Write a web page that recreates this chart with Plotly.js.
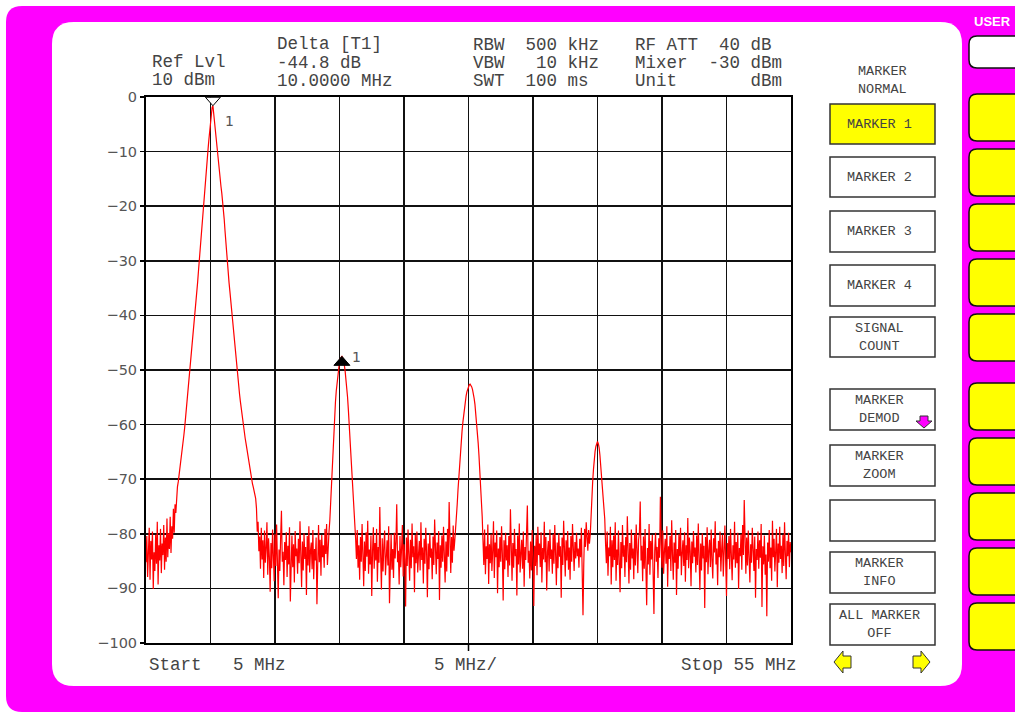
<!DOCTYPE html>
<html><head><meta charset="utf-8">
<script src="https://cdn.plot.ly/plotly-3.0.1.min.js"></script>
<style>html,body{margin:0;padding:0;background:#fff;overflow:hidden}#chart{width:1015px;height:715px}</style>
</head><body><div id="chart"></div>
<script>
// ---------------- DATA ----------------
const startMHz = 5, stopMHz = 55, stepMHz = 0.0625;   // 801 sweep points
const noiseA = [-85.2,-80.4,-87.9,-82.6,-78.9,-88.4,-81.3,-84.7,-79.6,-90.1,
  -83.4,-86.8,-80.2,-85.5,-77.8,-89.3,-82.1,-84.9,-79.1,-87.2,
  -81.8,-83.9,-78.4,-86.6,-80.7,-85.1,-77.2,-84.3,-79.9,-82.8,
  -76.9,-83.5,-78.6,-80.9,-75.4,-79.8,-74.6,-76.2];
const peak1 = [-72.5,-71.4,-70.5,-69.4,-68.3,-67.1,-65.8,-64.5,-63.2,-61.9,
  -60.5,-58.9,-57.3,-55.8,-54.2,-52.6,-51,-49.4,-47.8,-46.2,
  -44.6,-43,-41.4,-39.6,-37.8,-35.9,-34,-32,-30,-28.1,
  -26.2,-24.2,-22.2,-20.3,-18.5,-16.6,-14.8,-13,-11.2,-9.5,
  -7.8,-6.2,-4.6,-3.1,-1.9,-1.6,-3.2,-4.9,-6.6,-8.2,
  -9.8,-11.2,-12.6,-13.9,-15.2,-16.4,-17.6,-18.9,-20.2,-22.4,
  -24.5,-26.7,-28.8,-30.6,-32.4,-34,-35.5,-37.2,-38.9,-40.6,
  -42.2,-43.9,-45.5,-47.2,-48.8,-50.3,-51.8,-53.1,-54.4,-55.7,
  -57,-58.3,-59.5,-60.5,-61.5,-62.5,-63.4,-64.4,-65.3,-66.3,
  -67.3,-68.3,-69.3,-70.1,-70.8,-71.4,-72,-72.8,-73.5];
const noiseB = [-75.3,-79.6,-77.8,-83.2,-80.5,-86.4,-78.9,-84.7,-81.2,-88.1,
  -79.4,-85.3,-82.6,-77.9,-87.5,-80.8,-84.2,-90.6,-81.7,-86.3,
  -79.2,-83.8,-88.7,-80.1,-85.9,-78.3,-84.4,-91.8,-82.9,-86.8,
  -80.6,-75.8,-85.1,-83.3,-89.4,-81.5,-84.8,-79.7,-87.9,-82.2,
  -85.6,-78.8,-92.4,-83.6,-80.3,-86.1,-81.9,-88.9,-79.5,-84.1,
  -82.7,-87.3,-80.9,-85.4,-77.7,-83.9,-89.8,-81.4,-86.7,-79.9,
  -84.6,-82.4,-91.2,-80.4,-85.8,-78.6,-87.1,-83.1,-81.6,-86.5,
  -79.3,-88.3,-82.8,-84.9,-80.7,-92.9,-83.4,-78.4,-85.2,-81.1,
  -87.7,-80.2,-84.3,-82.1,-86.2,-79.1,-83.7,-78.2,-85.7,-80.8,
  -79.6];
const peak2 = [-77.5,-74.1,-70,-66.7,-63.6,-60.8,-58.2,-55.8,-53.8,-52.1,
  -50.6,-49.4,-48.5,-47.9,-47.6,-47.5,-47.8,-48.3,-49.1,-50.2,
  -51.5,-53.1,-55,-57.3,-59.8,-62.4,-65,-67.3,-69.6,-72,
  -74.6];
const noiseC = [-77.1,-80.9,-84.6,-79.3,-86.2,-82.1,-88.4,-80.6,-85.1,-78.2,
  -83.7,-89.6,-81.4,-86.8,-79.7,-84.2,-77.6,-87.3,-82.9,-85.6,
  -80.3,-91.4,-83.2,-78.8,-86.4,-81.7,-84.9,-79.1,-88.8,-82.4,
  -85.3,-75.1,-83.9,-90.2,-80.8,-86.9,-82.2,-79.4,-87.6,-84.1,
  -81.2,-85.8,-78.6,-92.7,-83.5,-80.1,-86.6,-82.8,-88.1,-79.8,
  -84.5,-81.5,-74.6,-85.2,-83.1,-89.3,-80.4,-86.1,-82.6,-78.4,
  -87.8,-81.9,-84.7,-93.3,-80.7,-85.9,-79.2,-83.4,-88.6,-81.1,
  -86.3,-78.1,-84.3,-82.3,-90.7,-80.2,-85.4,-79.6,-87.1,-83.8,
  -81.3,-86.7,-77.9,-84.8,-82.5,-89.1,-80.9,-85.5,-78.9,-83.3,
  -91.6,-81.8,-86.5,-79.9,-84.4,-82.7,-88.3,-80.5,-85.7,-77.4,
  -83.6,-87.4,-81.6,-84.6,-79.5,-92.1,-82.1,-86.2,-80.3,-85.1,
  -78.7,-83.8,-88.9,-81.4,-86.9,-79.1,-84.2,-74.2,-82.9,-87.2,
  -80.6,-85.3,-78.5,-83.1,-81.2,-79.4,-77.2];
const peak3 = [-74.6,-71.9,-69.4,-67.1,-65,-63,-61.2,-59.6,-58.1,-56.8,
  -55.7,-54.8,-54,-53.4,-53,-52.7,-52.6,-52.8,-53.1,-53.6,
  -54.2,-55.2,-56.3,-57.8,-59.5,-61.4,-63.4,-65.7,-68.2,-70.6,
  -73];
const noiseD = [-76.9,-81.4,-85.7,-79.2,-87.4,-82.3,-84.6,-78.3,-89.2,-81.9,
  -85.4,-80.1,-86.8,-83.2,-77.7,-88.1,-81.6,-84.3,-79.4,-90.9,
  -82.7,-86.1,-80.6,-85.1,-78.6,-83.7,-92.2,-81.2,-86.5,-79.8,
  -84.9,-82.1,-87.9,-80.4,-85.8,-75.5,-83.4,-88.6,-81.7,-86.2,
  -79.1,-84.1,-82.8,-91.3,-80.3,-85.6,-78.1,-87.1,-83.6,-81.1,
  -86.4,-79.6,-89.7,-82.4,-84.8,-80.8,-74.8,-85.3,-83.1,-88.2,
  -81.4,-86.7,-79.3,-84.4,-93.2,-82.2,-85.9,-80.2,-87.6,-78.7,
  -83.9,-81.8,-86.1,-79.7,-88.9,-82.6,-84.7,-77.8,-85.2,-80.6,
  -90.4,-83.3,-81.3,-86.9,-79.2,-84.6,-82.9,-87.3,-80.1,-85.5,
  -78.4,-83.5,-89.4,-81.6,-86.3,-79.9,-84.2,-82.3,-91.7,-80.7,
  -85.7,-77.6,-83.8,-87.8,-81.2,-84.9,-79.5,-86.6,-82.5,-88.4,
  -80.4,-85.1,-78.2,-83.2,-86.8,-81.5,-84.5,-79.8,-84.1,-82.7,
  -86.2,-80.9,-84.3,-78.9,-87.2,-94.9,-85.4,-79.1,-82.4,-77.9,
  -80.6,-83.1,-79.3,-81.8,-80.2];
const peak4 = [-76,-73.2,-70.5,-68.2,-66,-64.9,-64,-63.4,-63.1,-63.5,
  -64.2,-65.6,-67.5,-69.2,-71,-73,-75];
const noiseE = [-77.3,-81.8,-85.4,-79.6,-87.7,-82.5,-84.1,-78.7,-89.3,-81.2,
  -86.1,-80.3,-84.8,-77.9,-88.6,-82.9,-85.7,-79.4,-83.6,-90.7,
  -81.5,-86.3,-78.4,-84.2,-82.1,-87.9,-80.6,-85.2,-76.8,-83.9,
  -89.1,-81.7,-86.6,-79.2,-84.5,-82.7,-88.3,-80.1,-85.8,-78.3,
  -83.4,-87.2,-81.1,-79.7,-74.1,-84.9,-82.2,-88.7,-80.5,-86.4,
  -79.1,-84.3,-93.1,-82.6,-85.6,-78.2,-87.5,-81.3,-84.7,-80.2,
  -86.9,-94.7,-83.1,-79.8,-85.1,-82.4,-88.1,-80.8,-84.4,-73.2,
  -81.9,-86.2,-79.4,-87.3,-83.3,-80.9,-85.5,-78.6,-89.7,-82.3,
  -84.6,-80.4,-86.8,-77.5,-83.8,-88.4,-81.6,-85.3,-79.3,-91.2,
  -82.8,-86.4,-80.1,-84.1,-78.9,-87.6,-83.5,-81.2,-85.9,-79.7,
  -88.8,-82.1,-84.8,-77.1,-86.3,-80.7,-83.2,-89.6,-81.4,-85.4,
  -79.5,-84.2,-82.5,-87.1,-80.3,-85.7,-78.1,-83.6,-90.3,-81.8,
  -86.7,-79.9,-84.5,-82.2,-93.6,-80.6,-85.2,-78.8,-87.4,-83.1,
  -81.1,-86.1,-79.2,-84.9,-88.2,-80.8,-83.4,-77.7,-85.6,-82.7,
  -89.4,-81.3,-84.3,-79.6,-86.9,-82.9,-80.2,-87.8,-83.7,-78.5,
  -85.1,-91.4,-81.7,-84.6,-80.4,-86.5,-79.1,-83.3,-88.5,-82.1,
  -84.7,-77.8,-86.2,-81.5,-85.4,-79.8,-90.1,-82.6,-84.1,-80.1,
  -86.6,-78.4,-83.9,-73.8,-82.4,-87.3,-80.7,-85.8,-79.4,-84.2,
  -88.9,-81.9,-85.3,-78.9,-83.1,-86.8,-80.5,-91.7,-82.8,-84.8,
  -79.6,-86.4,-81.2,-84.4,-78.2,-93.4,-82.3,-85.6,-80.3,-87.5,
  -83.8,-95.1,-81.6,-85.1,-79.3,-86.3,-82.5,-88.6,-77.6,-84.3,
  -80.9,-86.9,-83.2,-79.1,-89.8,-81.8,-85.3,-78.7,-84.6,-82.2,
  -87.2,-80.2,-85.9,-77.9,-83.5,-88.3,-81.3,-84.1,-79.8,-86.1,
  -81.5,-83.4];
const levelDbm = [].concat(noiseA, peak1, noiseB, peak2, noiseC, peak3, noiseD, peak4, noiseE);

const markerFreqMHz = [10.1875, 20.1875];
const markerLevelDbm = [-1.6, -47.5];
const markerLabels = ['1', '1'];

const headerCol1 = ['Ref Lvl', '10 dBm'];
const headerCol2 = ['Delta [T1]', '-44.8 dB', '10.0000 MHz'];
const headerCol3 = ['RBW  500 kHz', 'VBW   10 kHz', 'SWT  100 ms'];
const headerCol4 = ['RF ATT  40 dB', 'Mixer  -30 dBm', 'Unit       dBm'];
const footerLabels = ['Start   5 MHz', '5 MHz/', 'Stop 55 MHz'];
const menuTitle = ['MARKER', 'NORMAL'];
const softkeyLabels = ['MARKER 1', 'MARKER 2', 'MARKER 3', 'MARKER 4', 'SIGNAL<br>COUNT',
  'MARKER<br>DEMOD', 'MARKER<br>ZOOM', '', 'MARKER<br>INFO', 'ALL MARKER<br>OFF'];
const userLabel = 'USER';

// ---------------- LAYOUT HELPERS ----------------
const L = 146, T = 97, W = 645, H = 546;
const fx = x => (x - L) / W;
const fy = y => (T + H - y) / H;
const nb = s => s.replace(/ /g, '\u00A0');
function P(x, y) { return fx(x).toFixed(5) + ',' + fy(y).toFixed(5); }
function rr(x0, y0, x1, y1, r) {
  return 'M' + P(x0 + r, y0) + ' L' + P(x1 - r, y0) + ' Q' + P(x1, y0) + ' ' + P(x1, y0 + r) +
    ' L' + P(x1, y1 - r) + ' Q' + P(x1, y1) + ' ' + P(x1 - r, y1) +
    ' L' + P(x0 + r, y1) + ' Q' + P(x0, y1) + ' ' + P(x0, y1 - r) +
    ' L' + P(x0, y0 + r) + ' Q' + P(x0, y0) + ' ' + P(x0 + r, y0) + ' Z';
}
function poly(pts) { return 'M' + pts.map(p => P(p[0], p[1])).join(' L') + ' Z'; }

const MAG = '#FF00FF', YEL = '#FFFF00', TXT = '#444444';
const mono = 'Liberation Mono, Courier New, monospace';

const shapes = [];
const annotations = [];
shapes.push({type: 'path', xref: 'paper', yref: 'paper', layer: 'below', path: rr(6, 6, 1040, 712, 16), fillcolor: MAG, line: {width: 0}});
shapes.push({type: 'path', xref: 'paper', yref: 'paper', layer: 'below', path: rr(52, 22, 962, 686, 22), fillcolor: '#FFFFFF', line: {width: 0}});
shapes.push({type: 'path', xref: 'paper', yref: 'paper', layer: 'below', path: rr(969, 36, 1030, 68, 8), fillcolor: '#FFFFFF', line: {color: '#111', width: 1.5}});
[94, 149, 204, 259, 314, 383, 438, 493, 548, 603].forEach(t => {
  shapes.push({type: 'path', xref: 'paper', yref: 'paper', layer: 'below', path: rr(969, t, 1030, t + 47, 8), fillcolor: YEL, line: {color: '#111', width: 1.5}});
});
annotations.push({xref: 'paper', yref: 'paper', x: fx(992), y: fy(21), text: '<b>' + userLabel + '</b>', showarrow: false,
  font: {family: 'Liberation Sans, Arial, sans-serif', size: 13, color: '#FFFFFF'}, xanchor: 'center', yanchor: 'middle'});
const keyBoxes = [[104, 144], [157, 197], [211, 252], [265, 306], [317, 357], [389, 430], [445, 486], [500, 541], [552, 593], [604, 645]];
keyBoxes.forEach((b, i) => {
  shapes.push({type: 'rect', xref: 'paper', yref: 'paper', layer: 'below', x0: fx(830), x1: fx(935), y0: fy(b[1]), y1: fy(b[0]),
    fillcolor: i === 0 ? YEL : '#FFFFFF', line: {color: '#333', width: 1.5}});
  if (softkeyLabels[i]) annotations.push({xref: 'paper', yref: 'paper', x: fx(879.5), y: fy((b[0] + b[1]) / 2), text: nb(softkeyLabels[i]),
    showarrow: false, xanchor: 'center', yanchor: 'middle', font: {family: mono, size: 13.5, color: TXT}});
});
annotations.push({xref: 'paper', yref: 'paper', x: fx(882.5), y: fy(80), text: menuTitle.join('<br>'), showarrow: false,
  xanchor: 'center', yanchor: 'middle', font: {family: mono, size: 13.5, color: TXT}});
shapes.push({type: 'path', xref: 'paper', yref: 'paper', path: poly([[920, 416], [928, 416], [928, 421], [932, 421], [924, 428], [916, 421], [920, 421]]), fillcolor: MAG, line: {color: '#333', width: 1}});
shapes.push({type: 'path', xref: 'paper', yref: 'paper', path: poly([[834, 662], [843, 651], [843, 656], [851, 656], [851, 668], [843, 668], [843, 673]]), fillcolor: YEL, line: {color: '#333', width: 1}});
shapes.push({type: 'path', xref: 'paper', yref: 'paper', path: poly([[930, 662], [921, 651], [921, 656], [913, 656], [913, 668], [921, 668], [921, 673]]), fillcolor: YEL, line: {color: '#333', width: 1}});
function addLines(lines, x, ys) {
  lines.forEach((s, i) => annotations.push({xref: 'paper', yref: 'paper', x: fx(x), y: fy(ys[i]), text: nb(s), showarrow: false,
    xanchor: 'left', yanchor: 'middle', font: {family: mono, size: 17.5, color: TXT}}));
}
addLines(headerCol1, 150, [62, 80]);
addLines(headerCol2, 275, [44.5, 62.5, 80.5]);
addLines(headerCol3, 471, [45, 63, 81]);
addLines(headerCol4, 633, [45, 63, 81]);
annotations.push({xref: 'paper', yref: 'paper', x: fx(147), y: fy(665), text: nb(footerLabels[0]), showarrow: false, xanchor: 'left', yanchor: 'middle', font: {family: mono, size: 17.5, color: TXT}});
annotations.push({xref: 'paper', yref: 'paper', x: fx(432), y: fy(665), text: nb(footerLabels[1]), showarrow: false, xanchor: 'left', yanchor: 'middle', font: {family: mono, size: 17.5, color: TXT}});
annotations.push({xref: 'paper', yref: 'paper', x: fx(799), y: fy(665), text: nb(footerLabels[2]), showarrow: false, xanchor: 'right', yanchor: 'middle', font: {family: mono, size: 17.5, color: TXT}});
shapes.push({type: 'line', xref: 'x', yref: 'paper', x0: (startMHz + stopMHz) / 2, x1: (startMHz + stopMHz) / 2, y0: 0, y1: fy(651), line: {color: '#000', width: 1.5}});
shapes.push({type: 'path', xref: 'x', yref: 'y', xsizemode: 'pixel', ysizemode: 'pixel', xanchor: markerFreqMHz[0], yanchor: markerLevelDbm[0],
  path: 'M-7.5,8.5 L7.5,8.5 L0,0 Z', fillcolor: '#FFFFFF', line: {color: '#000', width: 1}});
shapes.push({type: 'path', xref: 'x', yref: 'y', xsizemode: 'pixel', ysizemode: 'pixel', xanchor: markerFreqMHz[1], yanchor: markerLevelDbm[1],
  path: 'M-8,-9 L8,-9 L0,0 Z', fillcolor: '#000', line: {color: '#000', width: 1}});
annotations.push({xref: 'x', yref: 'y', x: markerFreqMHz[0], y: markerLevelDbm[0], xshift: 17, yshift: -15, text: markerLabels[0], showarrow: false,
  font: {family: 'DejaVu Sans, sans-serif', size: 14, color: '#555'}});
annotations.push({xref: 'x', yref: 'y', x: markerFreqMHz[1], y: markerLevelDbm[1], xshift: 15, yshift: -1, text: markerLabels[1], showarrow: false,
  font: {family: 'DejaVu Sans, sans-serif', size: 14, color: '#555'}});

const trace = {type: 'scatter', mode: 'lines', x0: startMHz, dx: stepMHz, y: levelDbm,
  line: {color: '#FF0000', width: 1.2}, hoverinfo: 'skip', cliponaxis: true};

const layout = {
  width: 1015, height: 715,
  margin: {l: L, r: 1015 - L - W, t: T, b: 715 - T - H, pad: 0},
  paper_bgcolor: '#FFFFFF', plot_bgcolor: 'rgba(0,0,0,0)',
  showlegend: false,
  xaxis: {range: [startMHz, stopMHz], tick0: startMHz, dtick: 5, showticklabels: false, ticks: '',
    showgrid: true, gridcolor: '#111', gridwidth: 1.5, zeroline: false,
    showline: true, mirror: true, linecolor: '#000', linewidth: 2, fixedrange: true},
  yaxis: {range: [-100, 0], tick0: 0, dtick: 10, ticks: 'outside', ticklen: 4, tickcolor: '#000', tickwidth: 1.5,
    tickfont: {family: 'DejaVu Sans, sans-serif', size: 14.5, color: '#555'},
    showgrid: true, gridcolor: '#111', gridwidth: 1.5, zeroline: false,
    showline: true, mirror: true, linecolor: '#000', linewidth: 2, fixedrange: true},
  shapes: shapes,
  annotations: annotations
};
Plotly.newPlot('chart', [trace], layout, {displayModeBar: false, staticPlot: true});
</script>
</body></html>
